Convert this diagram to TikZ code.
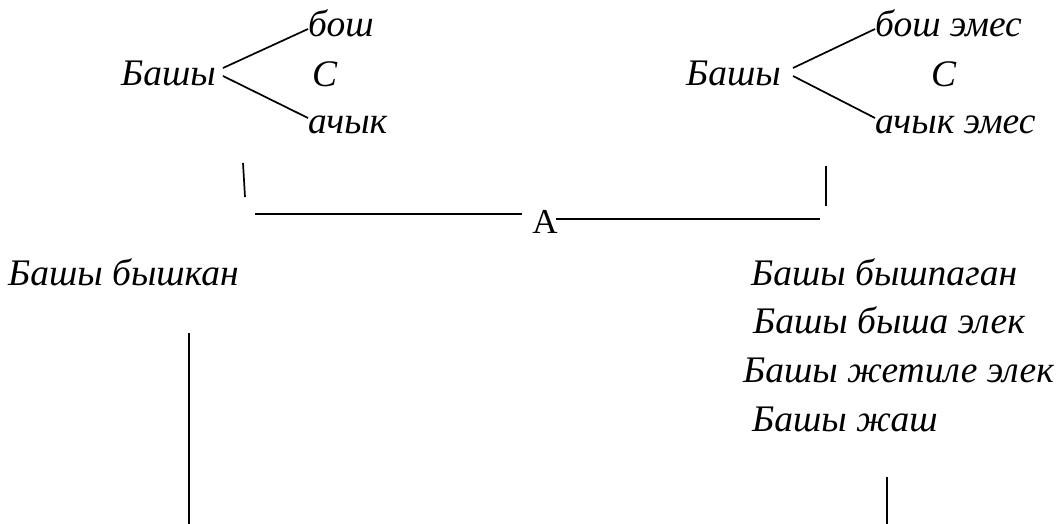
\documentclass[tikz,border=0pt]{standalone}
\usepackage{fontspec}
\setmainfont{Liberation Serif}
\begin{document}
\begin{tikzpicture}[x=1pt,y=-1pt,
  lbl/.style={inner sep=0pt,anchor=base west,font=\fontsize{37.5}{44}\selectfont\itshape},
  up/.style={inner sep=0pt,anchor=base,font=\fontsize{35}{42}\selectfont},
  ln/.style={line width=1.7pt}]
\useasboundingbox (0,0) rectangle (1057,524);
% left group
\node[lbl] (b1) at (121,86) {Башы};
\node[lbl] (bo1) at (308,37) {бош};
\node[lbl] (c1) at (312,87) {С};
\node[lbl] (a1) at (308,134) {ачык};
\coordinate (b1e) at (223,68);
\coordinate (b1f) at (223,76);
\draw[ln] (b1e) -- (bo1.west |- 0,29);
\draw[ln] (b1f) -- (a1.west |- 0,118);
% right group
\node[lbl] (b2) at (686,86) {Башы};
\node[lbl] (bo2) at (875,37) {бош эмес};
\node[lbl] (c2) at (931,87) {С};
\node[lbl] (a2) at (875,134) {ачык эмес};
\coordinate (b2e) at (793,68);
\coordinate (b2f) at (793,76);
\draw[ln] (b2e) -- (bo2.west |- 0,29);
\draw[ln] (b2f) -- (a2.west |- 0,118);
% middle
\node[up] (A) at (545,233) {A};
\coordinate (v1t) at (243,163);
\coordinate (v1b) at (245,197);
\coordinate (v2t) at (826,166);
\coordinate (v2b) at (826,206);
\draw[ln] (v1t) -- (v1b);
\draw[ln] (v2t) -- (v2b);
\coordinate (h1) at (255,214);
\coordinate (h2) at (820,219);
\draw[ln] (h1) -- ([xshift=-10pt]A.west |- h1);
\draw[ln] ([xshift=-2pt]A.east |- h2) -- (h2);
% lower
\node[lbl] (bb) at (8,285) {Башы бышкан};
\node[lbl] (r1) at (751,285) {Башы бышпаган};
\node[lbl] (r2) at (753,333) {Башы быша элек};
\node[lbl] (r3) at (743,382) {Башы жетиле элек};
\node[lbl] (r4) at (752,431) {Башы жаш};
\coordinate (l1t) at (189,333);
\coordinate (l1b) at (189,524);
\coordinate (l2t) at (887,477);
\coordinate (l2b) at (887,524);
\draw[ln] (l1t) -- (l1b);
\draw[ln] (l2t) -- (l2b);
\end{tikzpicture}
\end{document}
